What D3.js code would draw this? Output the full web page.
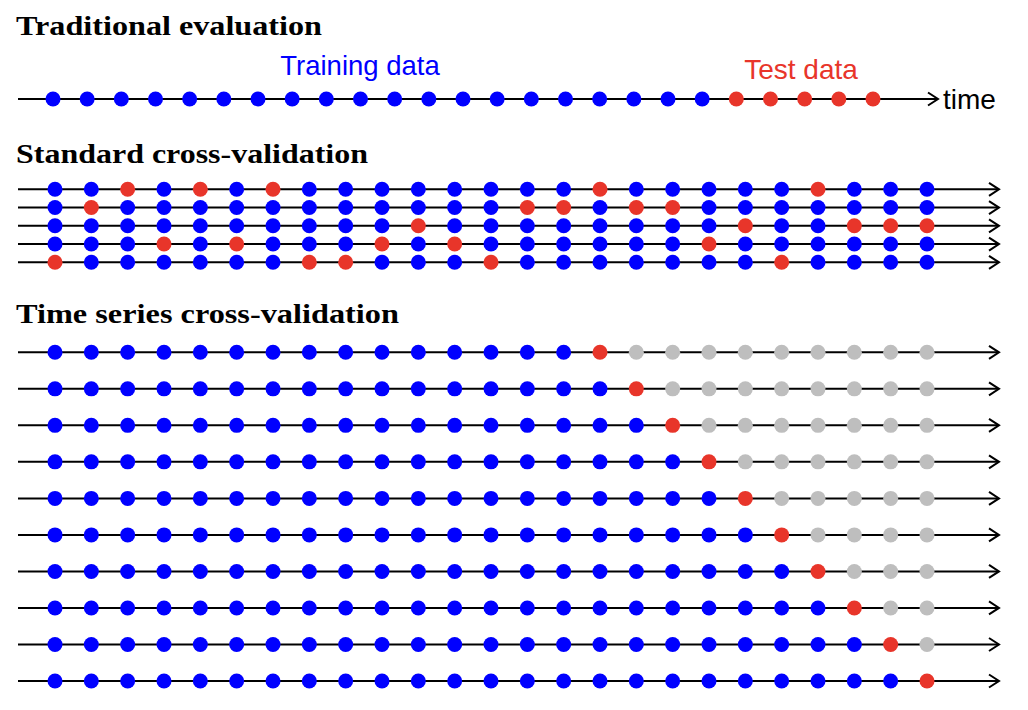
<!DOCTYPE html>
<html>
<head>
<meta charset="utf-8">
<script src="https://cdn.jsdelivr.net/npm/d3@7/dist/d3.min.js"></script>
<style>
  html, body { margin: 0; padding: 0; background: #fff; }
  svg { display: block; }
</style>
</head>
<body>
<svg id="chart" width="1028" height="710"></svg>
<script>
// ---------------- DATA ----------------
const titles = ["Traditional evaluation", "Standard cross-validation", "Time series cross-validation"];
const nPoints = 25;                        // observations per row
const pointIndex = d3.range(nPoints);
const traditionalTestStart = 20;           // indices >= this are test data
const traditionalLabels = ["Training data", "Test data", "time"];
// each row of standard CV: indices of the test observations
const standardTestFolds = [
  [2, 4, 6, 15, 21],
  [1, 13, 14, 16, 17],
  [10, 19, 22, 23, 24],
  [3, 5, 9, 11, 18],
  [0, 7, 8, 12, 20]
];
// each row of time series CV: index of the single test observation
const tsTestIndex = [15, 16, 17, 18, 19, 20, 21, 22, 23, 24];

// ---------------- STYLE ----------------
const BLUE = "#0000ff", RED = "#e8352a", GRAY = "#bebebe";
const R = 7.5;
const svg = d3.select("#chart");

function arrowLine(g, x0, x1, y) {
  g.append("line").attr("x1", x0).attr("x2", x1 - 1).attr("y1", y).attr("y2", y)
    .attr("stroke", "#000").attr("stroke-width", 2);
  g.append("path")
    .attr("d", `M${x1 - 10},${y - 6.5} L${x1},${y} L${x1 - 10},${y + 6.5}`)
    .attr("fill", "none").attr("stroke", "#000").attr("stroke-width", 2)
    .attr("stroke-linejoin", "miter");
}

const titleFont = "'Liberation Serif', 'DejaVu Serif', serif";
const sansFont = "'Liberation Sans', Arial, Helvetica, sans-serif";

function title(text, y, w) {
  svg.append("text").attr("x", 16).attr("y", y)
    .attr("font-family", titleFont).attr("font-weight", "bold")
    .attr("font-size", 28).attr("fill", "#000")
    .attr("textLength", w).attr("lengthAdjust", "spacingAndGlyphs")
    .text(text);
}

// ---------------- TRADITIONAL ----------------
title(titles[0], 35, 306);
const xTrad = d3.scaleLinear().domain([0, nPoints - 1]).range([53, 873]);
const gT = svg.append("g");
const yTrad = 99;
arrowLine(gT, 18, 938, yTrad);
gT.selectAll("circle").data(pointIndex).join("circle")
  .attr("cx", d => xTrad(d)).attr("cy", yTrad).attr("r", R)
  .attr("fill", d => d >= traditionalTestStart ? RED : BLUE);
gT.append("text").attr("x", 360).attr("y", 75).attr("text-anchor", "middle")
  .attr("font-family", sansFont).attr("font-size", 27.5).attr("fill", BLUE)
  .text(traditionalLabels[0]);
gT.append("text").attr("x", 801).attr("y", 79).attr("text-anchor", "middle")
  .attr("font-family", sansFont).attr("font-size", 28).attr("fill", RED)
  .text(traditionalLabels[1]);
gT.append("text").attr("x", 943).attr("y", 109)
  .attr("font-family", sansFont).attr("font-size", 28).attr("fill", "#000")
  .text(traditionalLabels[2]);

// ---------------- STANDARD CV ----------------
title(titles[1], 163, 352);
const x = d3.scaleLinear().domain([0, nPoints - 1]).range([55, 927]);
const yStd = d3.scaleLinear().domain([0, standardTestFolds.length - 1]).range([189.3, 262.3]);
standardTestFolds.forEach((fold, r) => {
  const g = svg.append("g");
  arrowLine(g, 18, 999, yStd(r));
  g.selectAll("circle").data(pointIndex).join("circle")
    .attr("cx", d => x(d)).attr("cy", yStd(r)).attr("r", R)
    .attr("fill", d => fold.includes(d) ? RED : BLUE);
});

// ---------------- TIME SERIES CV ----------------
title(titles[2], 323, 383);
const yTs = d3.scaleLinear().domain([0, tsTestIndex.length - 1]).range([352.3, 681]);
tsTestIndex.forEach((t, r) => {
  const g = svg.append("g");
  arrowLine(g, 18, 999, yTs(r));
  g.selectAll("circle").data(pointIndex).join("circle")
    .attr("cx", d => x(d)).attr("cy", yTs(r)).attr("r", R)
    .attr("fill", d => d < t ? BLUE : d === t ? RED : GRAY);
});
</script>
</body>
</html>
